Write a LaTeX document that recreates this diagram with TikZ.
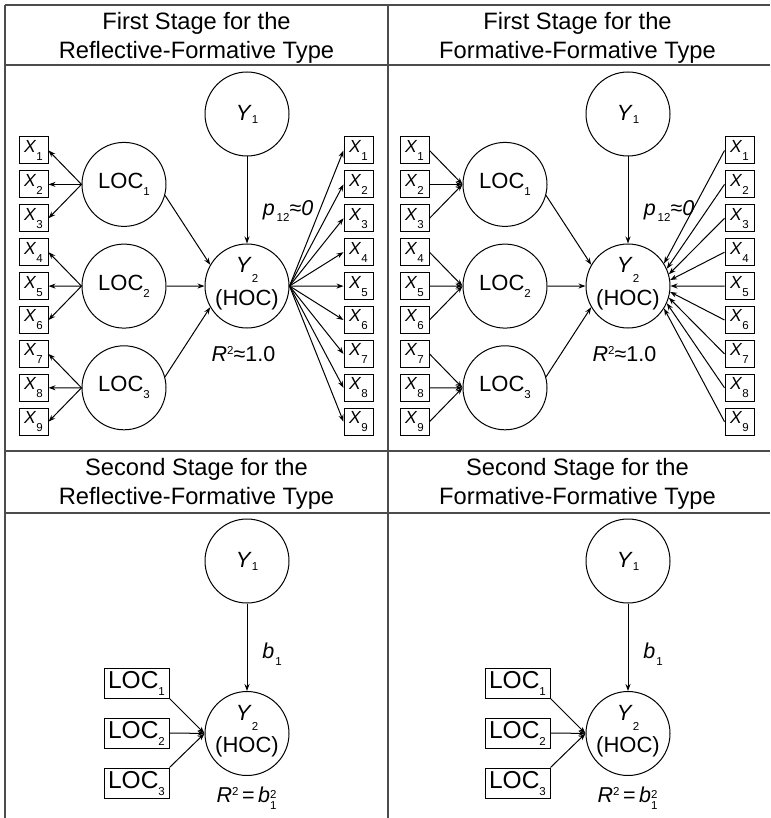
\documentclass[tikz,border=0pt]{standalone}
\usepackage{fontspec}
\setmainfont{Liberation Sans}
\usetikzlibrary{arrows.meta}
\newcommand{\lowsub}[2][7pt]{\raisebox{-#1}{\fontsize{11.5}{11.5}\selectfont #2}}
\newcommand{\hisup}[2][7pt]{\raisebox{#1}{\fontsize{11.5}{11.5}\selectfont #2}}
\newcommand{\twoscripts}[2]{\raisebox{-7pt}{\fontsize{11.5}{14.5}\selectfont\shortstack[l]{#1\\#2}}}
\newcommand{\hoclabel}{\raisebox{-19pt}[0pt][0pt]{\begin{tabular}[b]{@{}c@{}}\textit{Y}\lowsub[10pt]{2}\\(HOC)\end{tabular}}}
\tikzset{
  latent/.style={circle, draw, minimum size=84pt, inner sep=0pt, font=\fontsize{22}{32}\selectfont},
  item/.style={draw, minimum width=29pt, minimum height=27pt, inner sep=0pt, font=\fontsize{17.5}{17.5}\selectfont},
  locbox/.style={draw, minimum width=65pt, minimum height=30pt, inner sep=0pt, font=\fontsize{24.5}{24.5}\selectfont},
  heading/.style={align=center, font=\fontsize{23.7}{29}\selectfont},
  coef/.style={inner sep=0pt, font=\fontsize{21.5}{21.5}\selectfont},
  frame/.style={line width=1.5pt, black!70}
}
\begin{document}
\begin{tikzpicture}[x=1pt, y=-1pt, line width=1pt, >={Stealth[length=7pt, width=5pt]}]
  \useasboundingbox (0,0) rectangle (770,818);
  \draw[frame] (5,5) -- (770,5) (5,65) -- (770,65) (5,451) -- (770,451) (5,513) -- (770,513);
  \draw[frame] (5,5) -- (5,818) (388,5) -- (388,818);
  \foreach \p/\q/\dx/\kind in {a/c/0/Reflective, b/d/381/Formative}{
    \begin{scope}[xshift=\dx pt]
      \node[heading] (head\p) at (196.5,38) {First Stage for the\\\kind-Formative Type};
      \node[heading] (head\q) at (196.5,483.5) {Second Stage for the\\\kind-Formative Type};
      \node[latent] (y1\p) at (247,114) {\textit{Y}\lowsub[3pt]{1}};
      \node[latent] (y2\p) at (247,286) {\hoclabel};
      \foreach \k in {1,2,3}
        \node[latent] (loc\p\k) at (124,{82.7+101.7*\k}) {LOC\lowsub{\k}};
      \foreach \i in {1,...,9}{
        \node[item] (l\p\i) at (33.5,{116.6+33.9*\i}) {\textit{X}\lowsub[8pt]{\i}};
        \node[item] (r\p\i) at (358.5,{116.6+33.9*\i}) {\textit{X}\lowsub[8pt]{\i}};
      }
      \node[coef] (p\p) at (288,210.5) {\textit{p}\kern2pt\lowsub[6pt]{12}≈\textit{0}};
      \node[coef] (rsq\p) at (243.5,354.5) {\textit{R}\hisup{2}≈1.0};
      \draw[->] (y1\p) -- (y2\p);
      \draw[->] (loc\p1.-15) -- (y2\p.150);
      \draw[->] (loc\p2) -- (y2\p);
      \draw[->] (loc\p3.15) -- (y2\p.210);
      \node[latent] (y1\q) at (247,561) {\textit{Y}\lowsub[3pt]{1}};
      \node[latent] (y2\q) at (247,733.5) {\hoclabel};
      \foreach \k in {1,2,3}
        \node[locbox] (loc\q\k) at (136.5,{633+50*\k}) {LOC\lowsub{\k}};
      \node[coef] (b\q) at (272,654) {\textit{b}\kern1pt\lowsub{1}};
      \node[coef] (rsq\q) at (246.5,798) {\textit{R}\hisup{2}\,=\,\textit{b}\twoscripts{2}{1}};
      \draw[->] (y1\q) -- (y2\q);
      \draw[->] (loc\q1.south east) -- (y2\q.west);
      \draw[->] (loc\q2) -- (y2\q);
      \draw[->] (loc\q3.north east) -- (y2\q.west);
    \end{scope}
  }
  \foreach \i in {1,...,9}{
    \pgfmathtruncatemacro{\grp}{(\i+2)/3}
    \pgfmathtruncatemacro{\ang}{40-8*\i}
    \draw[->] (loca\grp.west) -- (la\i.east);
    \draw[->] (y2a.east) -- (ra\i.west);
    \draw[->] (lb\i.east) -- (locb\grp.west);
    \draw[->] (rb\i.west) -- (y2b.\ang);
  }
\end{tikzpicture}
\end{document}
